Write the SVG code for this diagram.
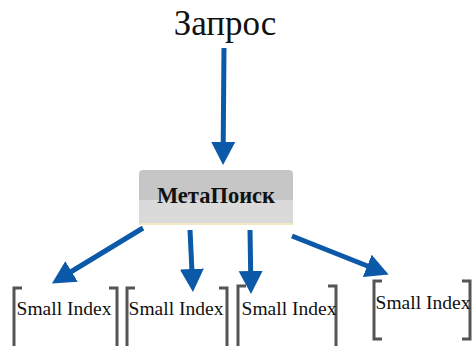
<svg xmlns="http://www.w3.org/2000/svg" width="476" height="346" viewBox="0 0 476 346">
  <style>
    .title { font-family: "Liberation Serif", "DejaVu Serif", serif; font-size: 35px; fill: #111; }
    .meta { font-family: "Liberation Serif", "DejaVu Serif", serif; font-size: 22.5px; font-weight: bold; fill: #111; }
    .idx { font-family: "Liberation Serif", "DejaVu Serif", serif; font-size: 19.5px; fill: #111; }
    .bracket { fill: none; stroke: #555; stroke-width: 3; }
    .conn { stroke: #0b59a8; stroke-width: 5; fill: none; }
  </style>
  <defs>
    <marker id="head" markerUnits="userSpaceOnUse" markerWidth="26" markerHeight="26" refX="3" refY="12" orient="auto">
      <path d="M0,0 L23,12 L0,24 z" fill="#0b59a8"/>
    </marker>
  </defs>

  <rect width="476" height="346" fill="#fff"/>

  <g id="query">
    <text class="title" x="225" y="35" text-anchor="middle">Запрос</text>
  </g>

  <g id="metasearch">
    <path d="M139,174 Q139,170 143,170 L289,170 Q293,170 293,174 L293,200 L139,200 z" fill="#c6c6c6"/>
    <rect x="139" y="200" width="154" height="23" fill="#dadada"/>
    <rect x="139" y="223" width="154" height="2" fill="#f2e9c4"/>
    <text class="meta" x="216" y="203" text-anchor="middle">МетаПоиск</text>
  </g>

  <g id="index1">
    <path class="bracket" d="M22,288 L14,288 L14,346 M109,288 L117,288 L117,346"/>
    <text class="idx" x="64" y="315" text-anchor="middle">Small Index</text>
  </g>
  <g id="index2">
    <path class="bracket" d="M135,288 L127,288 L127,346 M219,288 L227,288 L227,346"/>
    <text class="idx" x="176" y="315" text-anchor="middle">Small Index</text>
  </g>
  <g id="index3">
    <path class="bracket" d="M246,286 L238,286 L238,346 M328,286 L336,286 L336,346"/>
    <text class="idx" x="289" y="315" text-anchor="middle">Small Index</text>
  </g>
  <g id="index4">
    <path class="bracket" d="M382,281 L374,281 L374,339 L382,339 M462,281 L470,281 L470,339 L462,339"/>
    <text class="idx" x="423" y="309" text-anchor="middle">Small Index</text>
  </g>

  <g id="connectors">
    <line class="conn" x1="224" y1="48" x2="223.2" y2="145" marker-end="url(#head)"/>
    <line class="conn" x1="143" y1="228" x2="69" y2="273" marker-end="url(#head)"/>
    <line class="conn" x1="190" y1="230" x2="192" y2="272" marker-end="url(#head)"/>
    <line class="conn" x1="250" y1="230" x2="250.7" y2="274" marker-end="url(#head)"/>
    <line class="conn" x1="292" y1="236" x2="370" y2="267" marker-end="url(#head)"/>
  </g>
</svg>
